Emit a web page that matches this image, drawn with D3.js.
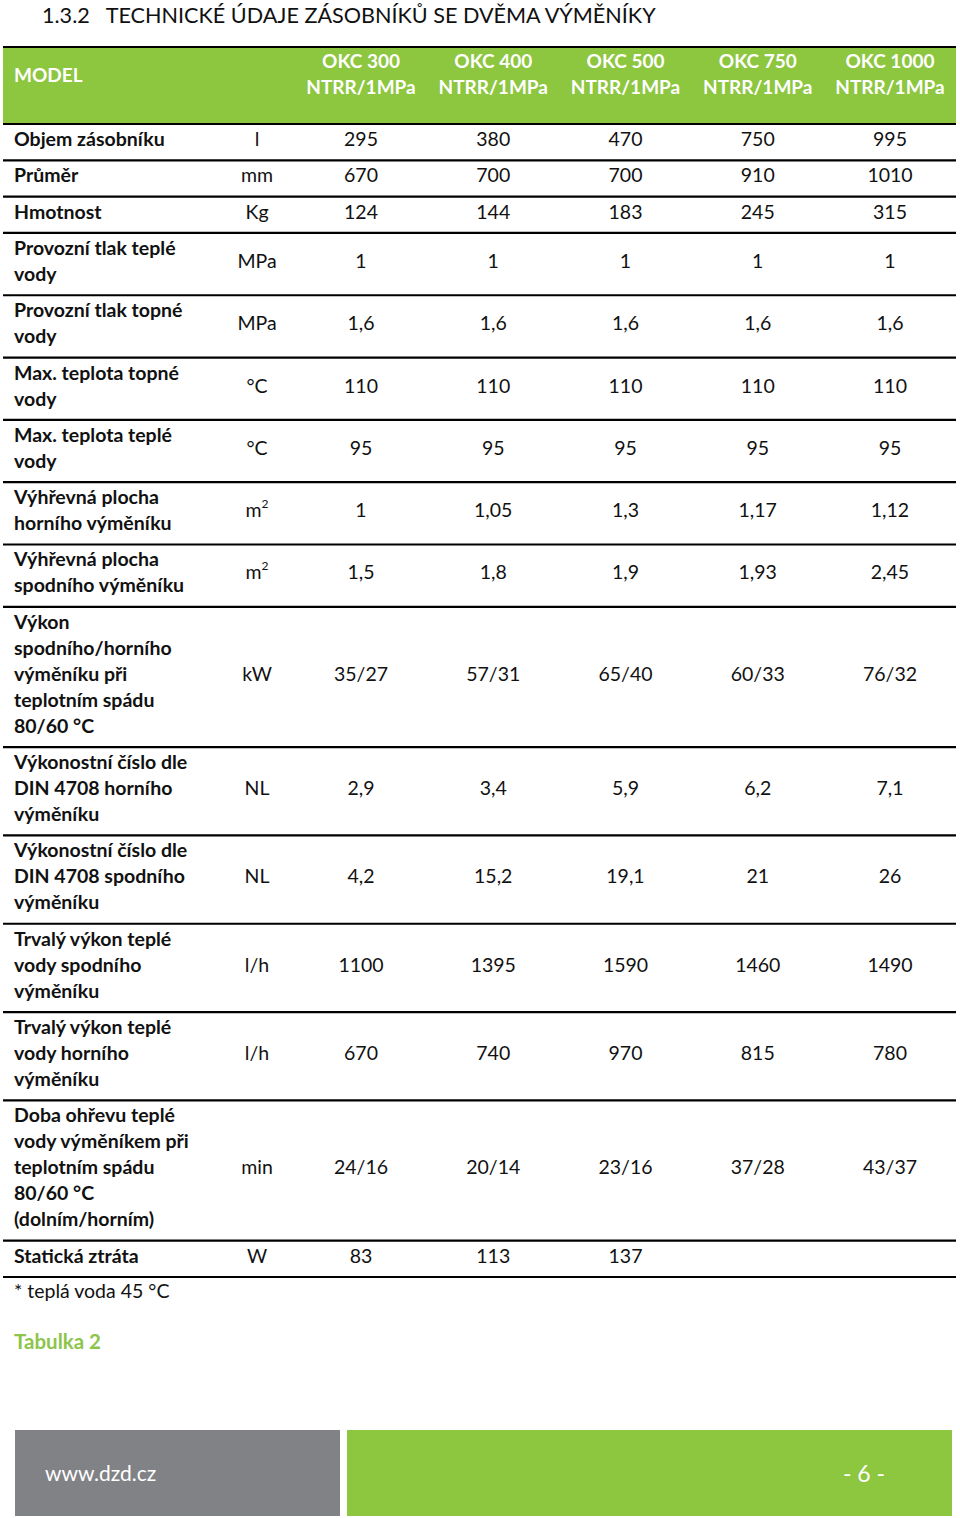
<!DOCTYPE html>
<html><head><meta charset="utf-8">
<script src="https://cdn.jsdelivr.net/npm/d3@7"></script>
<style>
html,body{margin:0;padding:0;background:#fff;}
svg{display:block;}
text{font-family:Lato,"Open Sans",sans-serif;}
</style></head>
<body>
<script>
const title = "1.3.2   TECHNICKÉ ÚDAJE ZÁSOBNÍKŮ SE DVĚMA VÝMĚNÍKY";
const headerLabel = "MODEL";
const models = ["OKC 300", "OKC 400", "OKC 500", "OKC 750", "OKC 1000"];
const modelSuffix = "NTRR/1MPa";
const rowLabels = [
  "Objem zásobníku",
  "Průměr",
  "Hmotnost",
  "Provozní tlak teplé\nvody",
  "Provozní tlak topné\nvody",
  "Max. teplota topné\nvody",
  "Max. teplota teplé\nvody",
  "Výhřevná plocha\nhorního výměníku",
  "Výhřevná plocha\nspodního výměníku",
  "Výkon\nspodního/horního\nvýměníku při\nteplotním spádu\n80/60 °C",
  "Výkonostní číslo dle\nDIN 4708 horního\nvýměníku",
  "Výkonostní číslo dle\nDIN 4708 spodního\nvýměníku",
  "Trvalý výkon teplé\nvody spodního\nvýměníku",
  "Trvalý výkon teplé\nvody horního\nvýměníku",
  "Doba ohřevu teplé\nvody výměníkem při\nteplotním spádu\n80/60 °C\n(dolním/horním)",
  "Statická ztráta"
];
const units = ["l","mm","Kg","MPa","MPa","°C","°C","m²","m²","kW","NL","NL","l/h","l/h","min","W"];
const okc300  = ["295","670","124","1","1,6","110","95","1","1,5","35/27","2,9","4,2","1100","670","24/16","83"];
const okc400  = ["380","700","144","1","1,6","110","95","1,05","1,8","57/31","3,4","15,2","1395","740","20/14","113"];
const okc500  = ["470","700","183","1","1,6","110","95","1,3","1,9","65/40","5,9","19,1","1590","970","23/16","137"];
const okc750  = ["750","910","245","1","1,6","110","95","1,17","1,93","60/33","6,2","21","1460","815","37/28",""];
const okc1000 = ["995","1010","315","1","1,6","110","95","1,12","2,45","76/32","7,1","26","1490","780","43/37",""];
const footnote = "* teplá voda 45 °C";
const caption = "Tabulka 2";
const footerUrl = "www.dzd.cz";
const footerPage = "- 6 -";

const columns = [okc300, okc400, okc500, okc750, okc1000];

const W = 960, H = 1518;
const GREEN = "#8dc63f", GREY = "#808285", INK = "#111";
const svg = d3.select("body").append("svg").attr("width", W).attr("height", H);

// title
svg.append("text").attr("x", 42).attr("y", 23).attr("font-size", 21.6)
  .attr("fill", INK).attr("xml:space","preserve").text(title);

// scales
const xModel = d3.scalePoint().domain(models).range([361, 890]);
const xUnit = 257;
const lineH = 26;
const nLines = rowLabels.map(s => s.split("\n").length);
const headTop = 47, headBot = 124, tableBot = 1277;
const extra = (tableBot - headBot - lineH * d3.sum(nLines)) / rowLabels.length;
const edges = [headBot];
nLines.forEach(n => edges.push(edges[edges.length-1] + n*lineH + extra));
const rowTop = i => edges[i], rowBot = i => edges[i+1];

// header
svg.append("rect").attr("x", 3).attr("y", headTop).attr("width", 953).attr("height", headBot-headTop).attr("fill", GREEN);
svg.append("text").attr("x", 14).attr("y", 75).attr("dy","0.35em").attr("font-size", 19).attr("font-weight", 700)
  .attr("fill", "#fff").text(headerLabel);
const hg = svg.append("g").selectAll("text").data(models).join("text")
  .attr("x", d => xModel(d)).attr("text-anchor","middle").attr("font-size", 19).attr("font-weight",700).attr("fill","#fff");
hg.append("tspan").attr("x", d => xModel(d)).attr("y", 61).attr("dy","0.35em").text(d => d);
hg.append("tspan").attr("x", d => xModel(d)).attr("y", 87).attr("dy","0.35em").text(modelSuffix);

// rows
const rows = svg.append("g").selectAll("g").data(rowLabels).join("g");
rows.each(function(label, i) {
  const g = d3.select(this);
  const lines = label.split("\n");
  const cy = (rowTop(i) + rowBot(i)) / 2 - 3;
  const t = g.append("text").attr("font-size", 19.5).attr("font-weight", 700).attr("fill", INK);
  lines.forEach((ln, k) => {
    t.append("tspan").attr("x", 14).attr("y", cy + (k - (lines.length-1)/2) * lineH).attr("dy","0.35em").text(ln);
  });
  const u = units[i];
  const ut = g.append("text").attr("x", xUnit).attr("y", cy).attr("dy","0.35em").attr("text-anchor","middle")
    .attr("font-size", 19.5).attr("fill", INK);
  if (u.endsWith("²")) {
    ut.append("tspan").text(u.slice(0, -1));
    ut.append("tspan").attr("font-size", 12).attr("dy", "-0.75em").text("2");
  } else ut.text(u);
  models.forEach((m, j) => {
    g.append("text").attr("x", xModel(m)).attr("y", cy).attr("dy","0.35em").attr("text-anchor","middle")
      .attr("font-size", 19.5).attr("fill", INK).text(columns[j][i]);
  });
});

// rules
svg.append("g").selectAll("line").data([headTop].concat(edges)).join("line")
  .attr("x1", 3).attr("x2", 956).attr("y1", d => d).attr("y2", d => d)
  .attr("stroke", "#000").attr("stroke-width", 2.2);

// footnote & caption
svg.append("text").attr("x", 14).attr("y", 1291).attr("dy","0.35em").attr("font-size", 19.5).attr("fill", INK).text(footnote);
svg.append("text").attr("x", 14).attr("y", 1342).attr("dy","0.35em").attr("font-size", 20.5).attr("font-weight", 700).attr("fill", "#8cc54a").text(caption);

// footer
svg.append("rect").attr("x", 15).attr("y", 1430).attr("width", 325).attr("height", 86).attr("fill", GREY);
svg.append("rect").attr("x", 347).attr("y", 1430).attr("width", 605).attr("height", 86).attr("fill", GREEN);
svg.append("text").attr("x", 45).attr("y", 1474).attr("dy","0.35em").attr("font-size", 21).attr("fill", "#fff")
  .attr("font-family", "'Liberation Sans Narrow','DejaVu Sans Condensed',sans-serif").text(footerUrl);
svg.append("text").attr("x", 864).attr("y", 1474).attr("dy","0.35em").attr("text-anchor","middle").attr("font-size", 23).attr("fill", "#fff")
  .attr("xml:space","preserve").text(footerPage);
</script>
</body></html>
